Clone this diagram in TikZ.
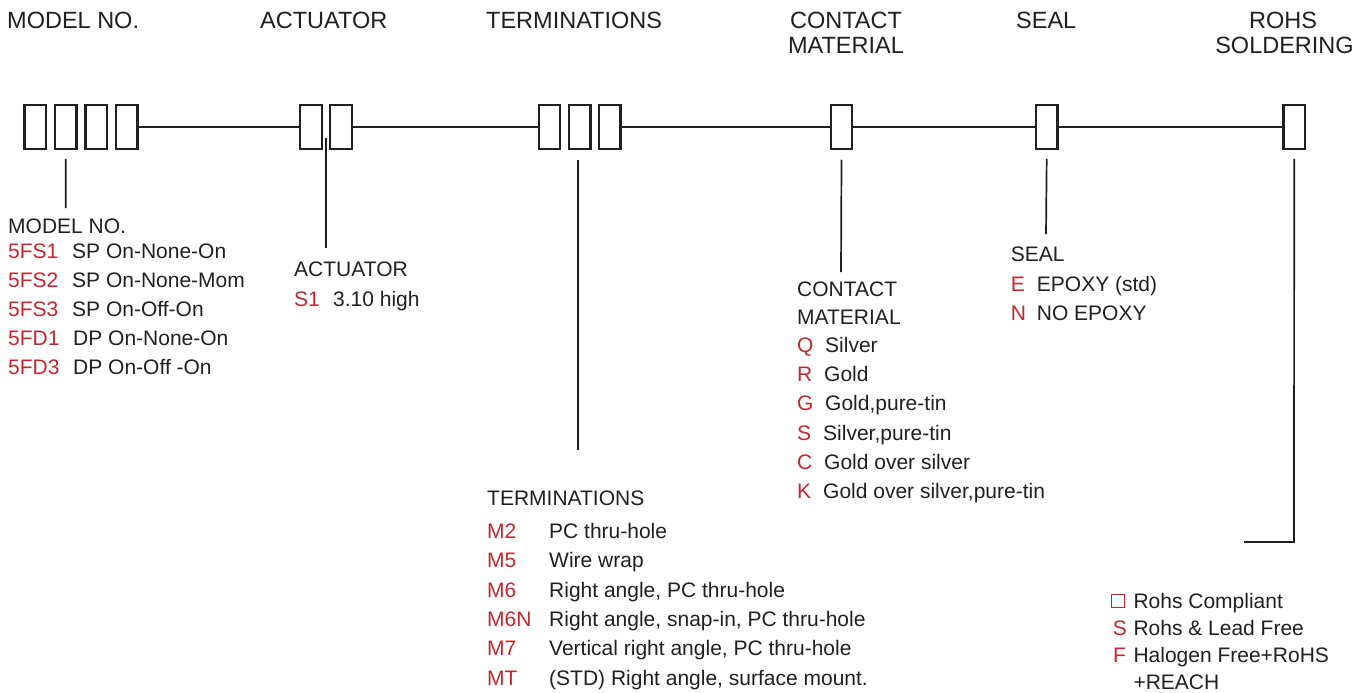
\documentclass[tikz,border=0pt]{standalone}
\usepackage{fontspec}
\setmainfont{Liberation Sans}
\usetikzlibrary{calc}
\definecolor{ink}{RGB}{35,31,32}
\definecolor{codered}{RGB}{193,39,45}
\begin{document}
\begin{tikzpicture}[x=1pt,y=-1pt,
  slot/.style={draw=ink,line width=2.4pt,minimum width=21.5pt,minimum height=43.5pt,inner sep=0pt,outer sep=0pt},
  mainline/.style={draw=ink,line width=2.4pt},
  lead/.style={draw=ink,line width=1.7pt},
  hdr/.style={anchor=base,inner sep=0pt,text=ink,font=\fontsize{23.5}{28}\selectfont},
  hdrw/.style={hdr,anchor=base west},
  body/.style={anchor=base west,inner sep=0pt,text=ink,font=\fontsize{21}{25}\selectfont},
  code/.style={body,text=codered}]
\useasboundingbox (0,0) rectangle (1370,693);

% headers
\node[hdrw] (hModel) at (7,28.3) {MODEL NO.};
\node[hdrw] (hAct) at (260,28.3) {ACTUATOR};
\node[hdrw] (hTerm) at (486,28.3) {TERMINATIONS};
\node[hdr] (hCon1) at (846,28.3) {CONTACT};
\node[hdr] (hCon2) at (846,54) {MATERIAL};
\node[hdrw] (hSeal) at (1016,28.3) {SEAL};
\node[hdr] (hRo1) at (1283,28.3) {ROHS};
\node[hdr] (hRo2) at (1284.5,54) {SOLDERING};

% boxes
\node[slot] (m1) at (35.3,127) {};
\node[slot] (m2) at (65.8,127) {};
\node[slot] (m3) at (96.2,127) {};
\node[slot] (m4) at (126.7,127) {};
\node[slot] (a1) at (311,127) {};
\node[slot] (a2) at (341,127) {};
\node[slot] (t1) at (549.5,127) {};
\node[slot] (t2) at (579.7,127) {};
\node[slot] (t3) at (609.8,127) {};
\node[slot] (c1) at (841.5,127) {};
\node[slot] (s1) at (1046.7,127) {};
\node[slot] (r1) at (1294.2,127) {};

% main line
\draw[mainline] (m4.east) -- (a1.west);
\draw[mainline] (a2.east) -- (t1.west);
\draw[mainline] (t3.east) -- (c1.west);
\draw[mainline] (c1.east) -- (s1.west);
\draw[mainline] (s1.east) -- (r1.west);

% lead ends
\coordinate (mEnd) at (65.7,208);
\coordinate (aEnd) at (326,248);
\coordinate (tEnd) at (578,450);
\coordinate (cEnd) at (841,272);
\coordinate (sEnd) at (1046,234);
\coordinate (rCorner) at (1294,542);
\coordinate (rEnd) at (1244,542);

\draw[lead] ([yshift=-10pt]m2.south) -- (mEnd);
\draw[lead] ($(a1.south)!0.5!(a2.south)+(0,-11)$) -- (aEnd);
\draw[lead] ([xshift=-1.7pt,yshift=-11pt]t2.south) -- (tEnd);
\draw[lead] ([yshift=-11pt]c1.south) -- (cEnd);
\draw[lead] ([yshift=-10pt]s1.south) -- (sEnd);
\draw[lead] ([yshift=-10pt]r1.south) -- (rCorner) -- (rEnd);

% model list
\node[body] (lModel) at (8,233.3) {MODEL NO.};
\node[code] (mc1) at (8,258.3) {5FS1};  \node[body] (md1) at (72,258.3) {SP On-None-On};
\node[code] (mc2) at (8,287.3) {5FS2};  \node[body] (md2) at (72,287.3) {SP On-None-Mom};
\node[code] (mc3) at (8,316.3) {5FS3};  \node[body] (md3) at (72,316.3) {SP On-Off-On};
\node[code] (mc4) at (8,345.3) {5FD1};  \node[body] (md4) at (73,345.3) {DP On-None-On};
\node[code] (mc5) at (8,374.3) {5FD3};  \node[body] (md5) at (73,374.3) {DP On-Off -On};

% actuator list
\node[body] (lAct) at (294,276) {ACTUATOR};
\node[code] (ac1) at (294,306.7) {S1}; \node[body] (ad1) at (333,306.7) {3.10 high};

% terminations list
\node[body] (lTerm) at (487,505) {TERMINATIONS};
\node[code] (tc1) at (487,538.3) {M2};  \node[body] (td1) at (549,538.3) {PC thru-hole};
\node[code] (tc2) at (487,567.7) {M5};  \node[body] (td2) at (549,567.7) {Wire wrap};
\node[code] (tc3) at (487,597) {M6};    \node[body] (td3) at (549,597) {Right angle, PC thru-hole};
\node[code] (tc4) at (487,626.3) {M6N}; \node[body] (td4) at (549,626.3) {Right angle, snap-in, PC thru-hole};
\node[code] (tc5) at (487,655.7) {M7};  \node[body] (td5) at (549,655.7) {Vertical right angle, PC thru-hole};
\node[code] (tc6) at (487,685) {MT};    \node[body] (td6) at (549,685) {(STD) Right angle, surface mount.};

% contact list
\node[body] (lCon1) at (797,296.7) {CONTACT};
\node[body] (lCon2) at (797,324) {MATERIAL};
\node[code] (cc1) at (797,352) {Q}; \node[body] (cd1) at (825,352) {Silver};
\node[code] (cc2) at (797,381.3) {R}; \node[body] (cd2) at (824,381.3) {Gold};
\node[code] (cc3) at (797,410.7) {G}; \node[body] (cd3) at (825,410.7) {Gold,pure-tin};
\node[code] (cc4) at (797,440) {S}; \node[body] (cd4) at (823,440) {Silver,pure-tin};
\node[code] (cc5) at (797,469.3) {C}; \node[body] (cd5) at (824,469.3) {Gold over silver};
\node[code] (cc6) at (797,498.6) {K}; \node[body] (cd6) at (823,498.6) {Gold over silver,pure-tin};

% seal list
\node[body] (lSeal) at (1010.7,261.7) {SEAL};
\node[code] (sc1) at (1010.7,291.7) {E}; \node[body] (sd1) at (1036.7,291.7) {EPOXY (std)};
\node[code] (sc2) at (1010.7,320.7) {N}; \node[body] (sd2) at (1036.7,320.7) {NO EPOXY};

% rohs list
\node[draw=codered,line width=1.2pt,minimum size=13pt,inner sep=0pt] (rc1) at (1118,601.2) {};
\node[body] (rd1) at (1133.3,608.3) {Rohs Compliant};
\node[code] (rc2) at (1112.7,635) {S}; \node[body] (rd2) at (1133.3,635) {Rohs \& Lead Free};
\node[code] (rc3) at (1113,662.3) {F}; \node[body] (rd3) at (1133.3,662.3) {Halogen Free+RoHS};
\node[body] (rd4) at (1133.3,689) {+REACH};
\end{tikzpicture}
\end{document}
